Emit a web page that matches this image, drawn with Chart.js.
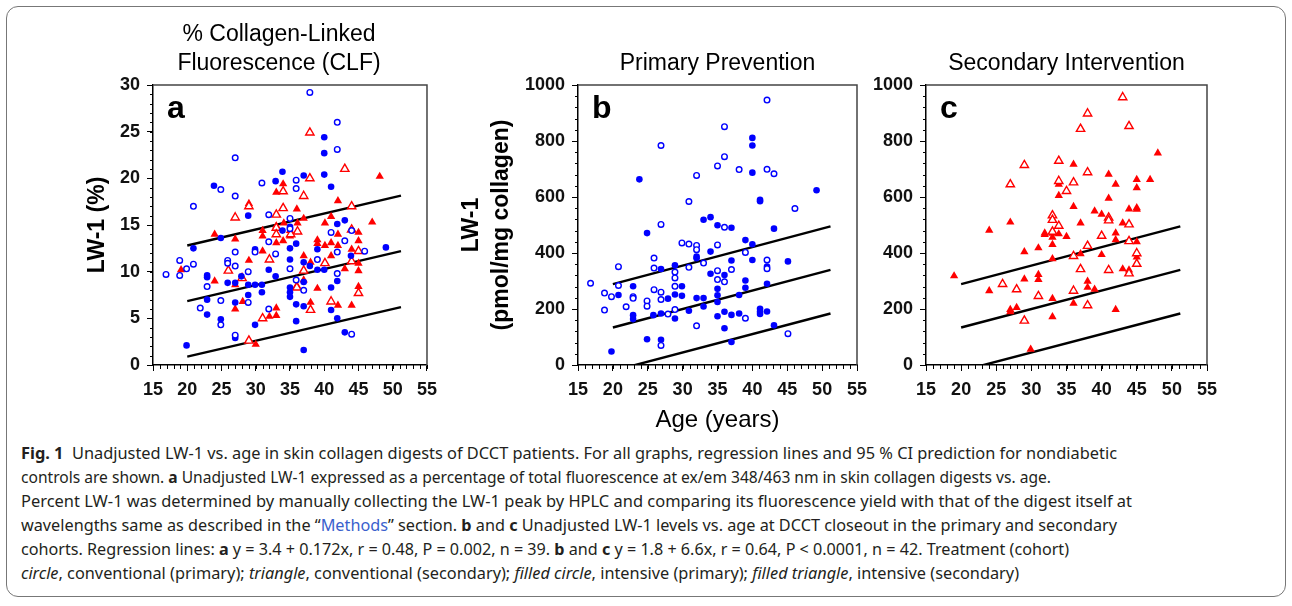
<!DOCTYPE html>
<html>
<head>
<meta charset="utf-8">
<script src="https://cdn.jsdelivr.net/npm/chart.js@4.4.0/dist/chart.umd.min.js"></script>
<style>
  body { margin: 0; background: #fff; width: 1292px; height: 606px; overflow: hidden; position: relative; }
  #frame { position: absolute; left: 6px; top: 6px; width: 1280px; height: 591px; box-sizing: border-box;
           border: 1px solid #777; border-radius: 12px; }
  canvas { position: absolute; top: 0; }
  #caption { position: absolute; left: 21px; top: 441px; color: #231f20; font-family: "Noto Sans", sans-serif; font-size: 16.5px; }
  .cl { height: 24px; line-height: 24px; white-space: nowrap; width: max-content; transform-origin: 0 50%; }
  .cl b { font-weight: 700; }
  .cl a { color: #3a5fcd; text-decoration: none; }
</style>
</head>
<body>
<div id="frame"></div>
<canvas id="chartA" width="385" height="440" style="left:60px"></canvas>
<canvas id="chartB" width="435" height="440" style="left:445px"></canvas>
<canvas id="chartC" width="380" height="440" style="left:860px"></canvas>

<div id="caption">
  <div class="cl"><b>Fig. 1</b>&nbsp; Unadjusted LW-1 vs. age in skin collagen digests of DCCT patients. For all graphs, regression lines and 95 % CI prediction for nondiabetic</div>
  <div class="cl">controls are shown. <b>a</b> Unadjusted LW-1 expressed as a percentage of total fluorescence at ex/em 348/463 nm in skin collagen digests vs. age.</div>
  <div class="cl">Percent LW-1 was determined by manually collecting the LW-1 peak by HPLC and comparing its fluorescence yield with that of the digest itself at</div>
  <div class="cl">wavelengths same as described in the “<a>Methods</a>” section. <b>b</b> and <b>c</b> Unadjusted LW-1 levels vs. age at DCCT closeout in the primary and secondary</div>
  <div class="cl">cohorts. Regression lines: <b>a</b> y = 3.4 + 0.172x, r = 0.48, P = 0.002, n = 39. <b>b</b> and <b>c</b> y = 1.8 + 6.6x, r = 0.64, P &lt; 0.0001, n = 42. Treatment (cohort)</div>
  <div class="cl"><i>circle</i>, conventional (primary); <i>triangle</i>, conventional (secondary); <i>filled circle</i>, intensive (primary); <i>filled triangle</i>, intensive (secondary)</div>
</div>

<script>
// ---- data: [age, value] pairs ----
// panel a: % LW-1
const aConvPrimary = [[37.9,29.2],[41.9,26.0],[41.9,23.1],[27.0,22.2],[27.0,18.1],[24.9,18.8],[30.9,19.5],[35.9,19.8],[35.9,18.9],[20.9,17.0],
  [31.9,16.1],[35.0,15.7],[41.0,14.2],[43.0,13.3],[31.9,13.2],[27.0,12.1],[29.9,12.1],[32.9,11.9],[35.0,10.3],[25.9,11.2],
  [25.9,10.9],[27.0,10.6],[18.9,11.2],[18.9,9.6],[16.9,9.7],[19.9,10.3],[20.9,10.8],[28.9,10.0],[41.9,12.1],[45.9,12.2],
  [44.0,14.4],[22.9,8.4],[24.9,6.9],[21.9,6.1],[24.9,4.3],[27.0,3.2],[31.9,6.0],[35.9,9.1],[37.0,8.0],[41.9,9.8],
  [44.0,3.3],[39.0,11.3],[28.9,6.7],[35.0,14.6]];
const aIntPrimary = [[40.0,24.4],[40.0,22.7],[40.0,20.4],[33.9,20.7],[37.0,20.3],[32.9,19.7],[41.0,19.1],[23.9,19.2],[28.9,16.0],[24.9,13.6],
  [20.9,12.5],[33.9,14.4],[35.0,14.8],[41.9,15.1],[43.0,15.5],[49.0,12.6],[35.9,13.0],[39.0,12.4],[35.0,12.5],[29.9,12.4],
  [35.0,11.3],[37.0,11.0],[37.9,10.6],[39.0,10.2],[40.0,10.2],[43.9,11.7],[31.9,10.2],[32.9,9.5],[22.9,9.6],[22.9,9.4],
  [27.9,9.5],[25.9,8.8],[27.0,8.8],[29.9,8.6],[30.9,8.6],[28.9,8.6],[35.0,8.3],[35.0,7.8],[35.0,7.3],[37.0,8.9],
  [41.0,8.3],[41.9,9.0],[30.9,7.8],[28.9,7.5],[22.9,7.0],[27.0,6.7],[35.9,6.5],[37.0,6.3],[41.0,5.9],[22.9,5.4],
  [24.9,4.9],[29.9,4.3],[41.9,5.0],[35.9,4.7],[43.0,3.5],[27.0,2.9],[19.9,2.1],[37.0,1.6]];
const aConvSecondary = [[37.9,24.9],[43.0,21.0],[37.9,20.0],[34.0,18.6],[37.0,18.1],[29.0,17.0],[44.0,17.0],[27.0,15.8],[34.0,16.8],[33.0,16.1],
  [33.0,14.7],[44.0,14.5],[36.1,14.3],[33.0,14.0],[35.1,14.0],[45.0,12.2],[32.0,11.3],[40.1,10.9],[44.0,11.1],[26.0,10.1],
  [37.0,10.1],[28.0,9.3],[36.0,8.3],[45.0,7.7],[41.0,6.8],[38.0,5.9],[31.0,5.0],[29.0,2.6]];
const aIntSecondary = [[48.1,20.2],[34.0,19.4],[33.0,18.5],[29.0,17.3],[42.0,17.6],[36.0,16.7],[41.0,15.9],[37.0,15.7],[47.0,15.3],[34.1,15.2],
  [36.1,15.2],[40.1,15.2],[33.0,14.9],[31.0,14.4],[35.0,14.4],[24.0,14.0],[27.0,13.5],[31.0,13.8],[42.0,14.0],[45.0,14.2],
  [33.0,13.1],[34.0,13.3],[39.0,13.4],[39.0,13.0],[41.0,13.1],[40.1,12.8],[42.0,12.8],[45.0,13.3],[44.0,12.4],[31.0,12.2],
  [37.0,11.7],[41.0,11.7],[38.0,11.0],[29.0,11.2],[45.0,10.9],[43.0,10.3],[45.0,10.1],[24.0,9.0],[27.0,8.6],[37.0,9.1],
  [36.0,8.5],[39.0,8.2],[45.0,8.4],[28.1,6.8],[27.0,6.0],[33.0,6.1],[38.0,6.7],[42.0,6.4],[44.0,6.4],[32.0,5.2],
  [33.0,5.3],[30.0,2.2],[19.1,10.2],[35.0,13.8]];

// panel b: primary prevention, pmol/mg collagen
const bConvPrimary = [[42.1,946],[36.0,851],[26.9,784],[36.0,744],[35.0,711],[38.1,698],[42.1,699],[43.1,683],[32.0,677],[30.9,584],
  [46.1,559],[26.9,502],[36.0,492],[35.0,429],[29.9,436],[30.9,432],[32.0,427],[32.0,412],[25.9,382],[20.8,351],
  [39.0,402],[33.0,364],[28.9,332],[30.9,349],[25.9,346],[42.1,375],[42.1,344],[37.0,341],[35.0,337],[35.0,305],
  [36.0,297],[28.9,311],[28.9,281],[20.8,284],[16.8,292],[18.8,257],[19.8,244],[22.9,244],[22.9,238],[25.9,269],
  [26.9,260],[26.9,234],[24.9,229],[24.9,210],[21.9,208],[18.8,196],[28.9,198],[27.9,182],[32.0,140],[39.0,167],
  [45.1,112],[26.9,70]];
const bIntPrimary = [[40.0,811],[40.0,784],[40.0,687],[23.8,663],[49.2,624],[41.1,590],[41.1,585],[34.0,528],[33.0,519],[35.0,499],
  [37.0,490],[43.1,487],[39.0,446],[40.0,431],[34.0,405],[32.0,387],[32.0,381],[24.9,471],[40.0,375],[45.1,370],
  [37.0,373],[28.9,356],[26.9,343],[42.1,352],[34.0,326],[36.0,321],[39.0,302],[42.1,290],[29.9,281],[22.9,281],
  [39.0,276],[35.0,272],[28.9,252],[29.9,247],[20.8,250],[35.0,249],[38.1,250],[27.9,237],[32.0,239],[33.0,239],
  [35.0,225],[33.0,209],[30.9,194],[41.1,201],[41.1,190],[41.1,182],[42.1,191],[38.1,184],[36.0,190],[26.9,184],
  [25.8,178],[22.9,178],[22.9,164],[28.9,166],[35.0,174],[37.0,179],[43.1,142],[36.0,131],[24.9,92],[26.9,90],
  [37.0,82],[19.8,48]];

// panel c: secondary intervention, pmol/mg collagen
const cConvSecondary = [[43.0,956],[38.0,898],[37.0,843],[43.9,853],[29.0,714],[33.9,729],[27.0,645],[33.9,657],[36.0,652],[35.0,621],
  [33.0,534],[33.0,518],[33.9,497],[33.0,476],[38.0,688],[40.0,461],[41.0,526],[41.0,516],[43.9,502],[43.9,442],
  [45.0,399],[45.0,361],[36.0,389],[38.0,425],[37.0,342],[41.0,339],[43.9,327],[25.9,289],[27.9,270],[31.0,246],
  [36.0,265],[38.0,213],[29.0,158]];
const cIntSecondary = [[48.0,757],[19.0,318],[24.0,481],[27.0,510],[24.0,265],[27.0,198],[27.0,190],[27.9,205],[29.0,307],[29.0,404],
  [31.0,418],[31.0,323],[31.0,305],[31.9,471],[31.9,466],[33.0,379],[33.0,430],[33.0,456],[33.0,470],[33.0,237],
  [33.0,172],[33.9,468],[33.9,605],[33.9,645],[35.0,459],[36.0,717],[36.0,566],[36.0,220],[37.0,397],[37.0,507],
  [38.0,299],[38.0,277],[39.0,270],[39.0,550],[40.0,538],[40.0,394],[41.0,595],[41.0,681],[42.0,645],[42.0,471],
  [42.0,447],[42.0,198],[43.0,507],[43.0,343],[43.9,557],[43.9,339],[45.0,662],[45.0,633],[45.0,561],[45.0,556],
  [45.0,440],[45.0,385],[46.9,662],[29.9,56]];

// regression line and 95% prediction band end points (nondiabetic controls)
const fitAges = [20, 51.2];
const aFit = [6.85, 12.2], aUpper = [12.8, 18.15], aLower = [0.9, 6.2];
const bcFit = [134, 340], bcUpper = [289, 495], bcLower = [-21, 184];

const xTicks = [15, 55, 5];          // min, max, step
const aTicks = [0, 30, 5];
const bcTicks = [0, 1000, 200];

const BLUE = '#0000ff', RED = '#ff0000';
const FONT = '"Liberation Sans", Arial, sans-serif';
Chart.defaults.font.family = FONT;
Chart.defaults.color = '#111';

const pts = arr => arr.map(p => ({ x: p[0], y: p[1] }));
const line = ys => fitAges.map((a, i) => ({ x: a, y: ys[i] }));

function openCircles(d) { return { data: pts(d), pointStyle: 'circle', pointRadius: 2.8, borderWidth: 1.4, borderColor: BLUE, backgroundColor: '#fff' }; }
function filledCircles(d) { return { data: pts(d), pointStyle: 'circle', pointRadius: 3.3, borderWidth: 0, borderColor: BLUE, backgroundColor: BLUE }; }
function openTriangles(d) { return { data: pts(d), pointStyle: 'triangle', pointRadius: 4.8, borderWidth: 1.4, borderColor: RED, backgroundColor: '#fff' }; }
function filledTriangles(d) { return { data: pts(d), pointStyle: 'triangle', pointRadius: 4.8, borderWidth: 0, borderColor: RED, backgroundColor: RED }; }
function fitLine(ys) { return { data: line(ys), showLine: true, pointRadius: 0, borderColor: '#000', borderWidth: 2.4, clip: 0 }; }

// draws frame, minor ticks, panel letter and texts
const decor = {
  id: 'decor',
  afterDraw(chart, args, o) {
    const { ctx, chartArea: ca, scales: { x, y } } = chart;
    ctx.save();
    ctx.strokeStyle = '#444';
    ctx.lineWidth = 1.5;
    ctx.beginPath();
    ctx.moveTo(ca.left, ca.top); ctx.lineTo(ca.right, ca.top); ctx.lineTo(ca.right, ca.bottom);
    ctx.stroke();

    ctx.strokeStyle = '#000';
    ctx.lineWidth = 1;
    ctx.beginPath();
    for (let v = x.min; v <= x.max; v += 1) {
      const px = Math.round(x.getPixelForValue(v)) + 0.5;
      ctx.moveTo(px, ca.bottom); ctx.lineTo(px, ca.bottom + 4);
    }
    for (let i = 0; i * o.yMinor <= y.max; i++) {
      const py = Math.round(y.getPixelForValue(i * o.yMinor)) + 0.5;
      ctx.moveTo(ca.left, py); ctx.lineTo(ca.left - 3, py);
    }
    ctx.stroke();

    ctx.fillStyle = '#000';
    ctx.textBaseline = 'alphabetic';
    ctx.textAlign = 'left';
    ctx.font = 'bold 32px ' + FONT;
    ctx.fillText(o.letter, ca.left + 14, ca.top + 33);

    ctx.textAlign = 'center';
    ctx.textBaseline = 'middle';
    ctx.font = '23px ' + FONT;
    const tx = (ca.left + ca.right) / 2 + o.titleDX;
    o.title.forEach((t, i) => ctx.fillText(t, tx, o.titleY[i]));

    ctx.font = 'bold 23px ' + FONT;
    o.yTitle.forEach((t, i) => {
      ctx.save();
      ctx.translate(o.yTitleX[i], (ca.top + ca.bottom) / 2);
      ctx.rotate(-Math.PI / 2);
      ctx.fillText(t, 0, 0);
      ctx.restore();
    });

    if (o.xTitle) {
      ctx.font = '24px ' + FONT;
      ctx.fillText(o.xTitle, (ca.left + ca.right) / 2, ca.bottom + 55);
    }
    ctx.restore();
  }
};

function makePanel(id, datasets, yt, yWidth, padRight, decorOpts) {
  const axisCommon = {
    type: 'linear',
    grid: { drawOnChartArea: false, drawTicks: true, tickLength: 6, color: '#000', tickWidth: 1 },
    border: { display: true, color: '#000', width: 1.5 },
    ticks: { font: { size: 18, weight: 'bold' }, color: '#111', callback: v => String(v) }
  };
  return new Chart(document.getElementById(id), {
    type: 'scatter',
    data: { datasets },
    options: {
      responsive: false,
      animation: false,
      devicePixelRatio: 1,
      layout: { padding: { top: 85, left: 0, right: padRight, bottom: 0 } },
      scales: {
        x: { ...axisCommon, min: xTicks[0], max: xTicks[1],
             ticks: { ...axisCommon.ticks, stepSize: xTicks[2], padding: 8, maxRotation: 0 },
             afterFit: s => { s.height = 75; } },
        y: { ...axisCommon, min: yt[0], max: yt[1],
             ticks: { ...axisCommon.ticks, stepSize: yt[2], padding: 7 },
             afterFit: s => { s.width = yWidth; } }
      },
      plugins: { legend: { display: false }, tooltip: { enabled: false }, decor: decorOpts }
    },
    plugins: [decor]
  });
}

makePanel('chartA', [
  openCircles(aConvPrimary), filledCircles(aIntPrimary),
  openTriangles(aConvSecondary), filledTriangles(aIntSecondary),
  fitLine(aUpper), fitLine(aFit), fitLine(aLower)
], aTicks, 93, 12, {
  letter: 'a', title: ['% Collagen-Linked', 'Fluorescence (CLF)'], titleY: [35, 64], titleDX: -11,
  yTitle: ['LW-1 (%)'], yTitleX: [38], yMinor: 1
});

makePanel('chartB', [
  openCircles(bConvPrimary), filledCircles(bIntPrimary),
  fitLine(bcUpper), fitLine(bcFit), fitLine(bcLower)
], bcTicks, 133, 23, {
  letter: 'b', title: ['Primary Prevention'], titleY: [64], titleDX: 0,
  yTitle: ['LW-1', '(pmol/mg collagen)'], yTitleX: [27, 57], yMinor: 40, xTitle: 'Age (years)'
});

makePanel('chartC', [
  openTriangles(cConvSecondary), filledTriangles(cIntSecondary),
  fitLine(bcUpper), fitLine(bcFit), fitLine(bcLower)
], bcTicks, 66, 33, {
  letter: 'c', title: ['Secondary Intervention'], titleY: [64], titleDX: 0,
  yTitle: [], yTitleX: [], yMinor: 40
});

// fit caption lines to the widths used in the figure
const lineEnds = [1117, 1051, 1132, 1117, 1069, 1019];
document.querySelectorAll('.cl').forEach((el, i) => {
  const w = el.getBoundingClientRect().width;
  el.style.transform = 'scaleX(' + ((lineEnds[i] - 21) / w).toFixed(4) + ')';
});
</script>
</body>
</html>
